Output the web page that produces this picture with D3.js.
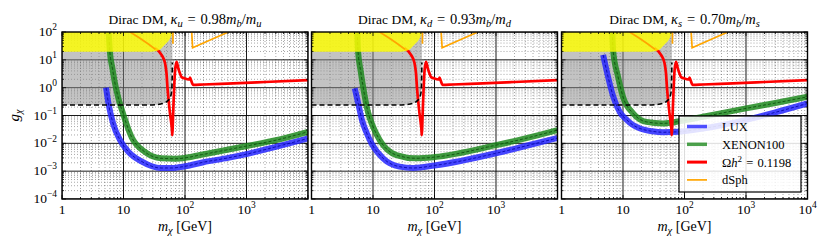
<!DOCTYPE html>
<html>
<head>
<meta charset="utf-8">
<script src="https://cdnjs.cloudflare.com/ajax/libs/d3/7.8.5/d3.min.js"></script>
<style>
  body { margin: 0; background: #fff; }
  svg { display: block; }
</style>
</head>
<body>
<div id="chart"></div>
<script>
// ---- data (mass in GeV, coupling g_chi) ----
var massTicks = [1, 10, 100, 1000, 10000];
var couplingTicks = [1e-4, 1e-3, 1e-2, 1e-1, 1, 10, 100];
var quarkNames = ["u", "d", "s"];
var kappaValues = ["0.98", "0.93", "0.70"];
var legendNames = ["LUX", "XENON100", "relic", "dSph"];

var luxU = [[5.2, 1.0], [5.7, 0.27], [6.8, 0.05], [8.8, 0.013], [12, 0.005], [20, 0.0022], [29, 0.0015],
  [40, 0.0013], [60, 0.0013], [100, 0.0015], [200, 0.0021], [500, 0.003], [1000, 0.0041], [3000, 0.0075], [10000, 0.015]];
var xenonU = [[5.75, 100], [6.0, 20], [6.6, 5], [7.2, 1.6], [8.3, 0.4], [9.8, 0.12], [13.5, 0.017], [22, 0.005],
  [41, 0.0029], [70, 0.0028], [100, 0.003], [175, 0.0038], [1000, 0.008], [3000, 0.013], [10000, 0.026]];

var luxD = [[5.05, 0.95], [5.6, 0.35], [6.1, 0.15], [6.6, 0.07], [7.8, 0.025], [9.45, 0.01], [14.6, 0.0029], [27, 0.00145],
  [45, 0.0013], [100, 0.0016], [1000, 0.0044], [3000, 0.008], [10000, 0.0155]];
var xenonD = [[5.55, 100], [5.7, 22], [6.3, 4], [6.9, 1.08], [8.3, 0.13], [10, 0.04], [12.9, 0.013], [24, 0.0038],
  [50, 0.0029], [100, 0.0032], [1000, 0.0086], [3000, 0.015], [10000, 0.03]];

var luxS = [[4.75, 15], [5.7, 2.5], [6.9, 0.5], [8.9, 0.13], [11.5, 0.07], [14, 0.048], [19, 0.034], [30, 0.027],
  [45, 0.025], [80, 0.026], [200, 0.034], [1000, 0.07], [3000, 0.13], [10000, 0.27]];
var xenonS = [[6.7, 100], [6.9, 22], [8.3, 2.5], [10, 0.47], [14.6, 0.12], [24, 0.059], [45, 0.052], [83, 0.062],
  [200, 0.09], [1000, 0.18], [3000, 0.28], [10000, 0.47]];

var relicCurve = [[32.5, 26], [41.8, 14.8], [47.4, 7.5], [50, 3.3], [52, 0.94], [53.5, 0.47], [57, 0.12], [60, 0.05],
  [61.5, 0.028], [62, 0.0197], [62.8, 0.03], [64, 0.1], [65.5, 0.4], [67, 1.3], [69, 4.3], [73, 8.5], [78, 4.8],
  [83, 3.2], [88, 2.4], [100, 2.15], [113, 2.0], [118, 2.0], [121, 2.3], [126, 1.8], [136, 1.25], [200, 1.3],
  [611, 1.43], [2000, 1.6], [10000, 1.87]];
var higgsWidth = [[1, 0.237], [25, 0.237], [35, 0.245], [45, 0.275], [50, 0.31], [55, 0.38], [58.5, 0.5], [60.5, 0.7],
  [61.5, 1.3], [62, 3], [62.3, 8]];
var perturbEdge = [[1, 19.5], [25, 19.5], [33, 20.5], [40, 24], [44, 30], [50, 40], [57, 59], [60.5, 80], [62.1, 100]];
var dsphLow = [[12.8, 100], [18, 62], [25, 38], [33, 24]];
var dsphPeak = [[63.6, 100], [63.6, 38]];
var dsphHigh = [[128.5, 100], [133, 27], [506, 100]];

var luxSets = [luxU, luxD, luxS];
var xenonSets = [xenonU, xenonD, xenonS];

// ---- layout ----
var W = 830, H = 249;
var panelLeft = [62, 311.5, 561.5];
var panelTop = 32, panelW = 246, panelH = 167;
var serif = "'Liberation Serif', 'Times New Roman', serif";

var svg = d3.select("#chart").append("svg").attr("width", W).attr("height", H)
  .style("font-family", serif);

var x = d3.scaleLog().domain([1, 1e4]).range([0, panelW]);
var y = d3.scaleLog().domain([1e-4, 1e2]).range([panelH, 0]);

function minorValues(scale) {
  var dom = scale.domain(), out = [];
  for (var e = Math.round(Math.log10(dom[0])); e < Math.round(Math.log10(dom[1])); e++)
    for (var k = 2; k <= 9; k++) out.push(k * Math.pow(10, e));
  return out;
}

var line = d3.line().x(function(d) { return x(d[0]); }).y(function(d) { return y(d[1]); }).curve(d3.curveMonotoneX);
var straight = d3.line().x(function(d) { return x(d[0]); }).y(function(d) { return y(d[1]); });
var topArea = d3.area().x(function(d) { return x(d[0]); }).y0(function(d) { return y(d[1]); }).y1(0).curve(d3.curveMonotoneX);

function label(parent) {
  return parent.append("text").style("font-family", serif);
}

// writes 1, 10, 10^n as text with superscript (full = always 10^n)
function powerLabel(sel, v, size, full) {
  var e = Math.round(Math.log10(v));
  if (!full && e === 0) { sel.text("1"); return; }
  if (!full && e === 1) { sel.text("10"); return; }
  sel.append("tspan").text("10");
  sel.append("tspan").attr("font-size", size * 0.7).attr("dy", -size * 0.42)
    .text(e < 0 ? "\u2212" + (-e) : e);
}

function sub(t, s, italic, size) {
  t.append("tspan").attr("font-size", size || 10).attr("dy", 3).attr("font-style", italic ? "italic" : null).text(s);
  return t;
}

function drawBand(g, data, fill, dark) {
  g.append("path").attr("d", line(data)).attr("fill", "none")
    .attr("stroke", fill).attr("stroke-width", 6).attr("stroke-opacity", 0.85);
  g.append("path").attr("d", line(data)).attr("fill", "none")
    .attr("stroke", dark).attr("stroke-width", 1).attr("stroke-dasharray", "3,2").attr("stroke-opacity", 0.8);
}

panelLeft.forEach(function(left, i) {
  var g = svg.append("g").attr("transform", "translate(" + left + "," + panelTop + ")");

  g.append("clipPath").attr("id", "clip" + i).append("rect").attr("width", panelW).attr("height", panelH);
  var plot = g.append("g").attr("clip-path", "url(#clip" + i + ")");

  // minor dotted grid
  plot.selectAll(".gx").data(minorValues(x)).join("line")
    .attr("x1", function(d) { return x(d); }).attr("x2", function(d) { return x(d); })
    .attr("y1", 0).attr("y2", panelH)
    .attr("stroke", "#000").attr("stroke-opacity", 0.5).attr("stroke-width", 0.7).attr("stroke-dasharray", "1,2");
  plot.selectAll(".gy").data(minorValues(y)).join("line")
    .attr("y1", function(d) { return y(d); }).attr("y2", function(d) { return y(d); })
    .attr("x1", 0).attr("x2", panelW)
    .attr("stroke", "#000").attr("stroke-opacity", 0.5).attr("stroke-width", 0.7).attr("stroke-dasharray", "1,2");
  // major grid
  plot.selectAll(".mx").data(massTicks).join("line")
    .attr("x1", function(d) { return x(d); }).attr("x2", function(d) { return x(d); })
    .attr("y1", 0).attr("y2", panelH).attr("stroke", "#000").attr("stroke-width", 0.9);
  plot.selectAll(".my").data(couplingTicks).join("line")
    .attr("y1", function(d) { return y(d); }).attr("y2", function(d) { return y(d); })
    .attr("x1", 0).attr("x2", panelW).attr("stroke", "#000").attr("stroke-width", 0.9);

  // Higgs invisible width region
  plot.append("path").attr("d", topArea(higgsWidth)).attr("fill", "#888").attr("fill-opacity", 0.5);

  drawBand(plot, luxSets[i], "#2626ff", "#0000a0");
  drawBand(plot, xenonSets[i], "#1f8a1f", "#0a4a0a");

  plot.append("path").attr("d", line(relicCurve)).attr("fill", "none")
    .attr("stroke", "#ff0000").attr("stroke-width", 2.7);

  plot.append("path").attr("d", topArea(perturbEdge)).attr("fill", "#ffff00").attr("fill-opacity", 0.82);

  [dsphLow, dsphPeak, dsphHigh].forEach(function(seg) {
    plot.append("path").attr("d", straight(seg)).attr("fill", "none")
      .attr("stroke", "#ffa500").attr("stroke-width", 1.7);
  });

  plot.append("path").attr("d", line(higgsWidth)).attr("fill", "none")
    .attr("stroke", "#000").attr("stroke-width", 1.6).attr("stroke-dasharray", "5,3");

  // ticks (inward, all four sides)
  var tk = g.append("g").attr("stroke", "#000");
  massTicks.forEach(function(v) {
    tk.append("line").attr("x1", x(v)).attr("x2", x(v)).attr("y1", panelH).attr("y2", panelH - 4);
    tk.append("line").attr("x1", x(v)).attr("x2", x(v)).attr("y1", 0).attr("y2", 4);
  });
  minorValues(x).forEach(function(v) {
    tk.append("line").attr("x1", x(v)).attr("x2", x(v)).attr("y1", panelH).attr("y2", panelH - 2);
    tk.append("line").attr("x1", x(v)).attr("x2", x(v)).attr("y1", 0).attr("y2", 2);
  });
  couplingTicks.forEach(function(v) {
    tk.append("line").attr("y1", y(v)).attr("y2", y(v)).attr("x1", 0).attr("x2", 4);
    tk.append("line").attr("y1", y(v)).attr("y2", y(v)).attr("x1", panelW).attr("x2", panelW - 4);
  });
  minorValues(y).forEach(function(v) {
    tk.append("line").attr("y1", y(v)).attr("y2", y(v)).attr("x1", 0).attr("x2", 2);
    tk.append("line").attr("y1", y(v)).attr("y2", y(v)).attr("x1", panelW).attr("x2", panelW - 2);
  });
  tk.selectAll("line").attr("stroke-width", 0.8);

  g.append("rect").attr("width", panelW).attr("height", panelH)
    .attr("fill", "none").attr("stroke", "#000").attr("stroke-width", 1.4);

  // x tick labels
  var xLabels = i === 2 ? massTicks : massTicks.slice(0, 4);
  xLabels.forEach(function(v) {
    var t = label(g).attr("x", x(v)).attr("y", panelH + 15).attr("text-anchor", "middle").attr("font-size", 13.5);
    powerLabel(t, v, 13.5, false);
  });

  // x axis title
  var xt = label(g).attr("x", panelW / 2).attr("y", panelH + 32).attr("text-anchor", "middle").attr("font-size", 14);
  xt.append("tspan").attr("font-style", "italic").text("m");
  sub(xt, "\u03c7", true, 10.5);
  xt.append("tspan").attr("dy", -3).text("\u2005[GeV]");

  // panel title
  var t = label(g).attr("x", panelW / 2).attr("y", -8).attr("text-anchor", "middle").attr("font-size", 14.5);
  t.append("tspan").attr("font-size", 13.5).text("Dirac DM,\u2005");
  t.append("tspan").attr("font-style", "italic").text("\u03ba");
  sub(t, quarkNames[i], true, 10.5);
  t.append("tspan").attr("dy", -3).text("\u2004=\u2004" + kappaValues[i]);
  t.append("tspan").attr("font-style", "italic").text("m");
  sub(t, "b", true, 10.5);
  t.append("tspan").attr("dy", -3).text("/");
  t.append("tspan").attr("font-style", "italic").text("m");
  sub(t, quarkNames[i], true, 10.5);

  if (i === 0) {
    couplingTicks.forEach(function(v) {
      var t = label(g).attr("x", -5).attr("y", y(v) + 4).attr("text-anchor", "end").attr("font-size", 13.5);
      powerLabel(t, v, 13.5, true);
    });
    var yt = label(g).attr("transform", "translate(-43," + (panelH / 2) + ") rotate(-90)")
      .attr("text-anchor", "middle").attr("font-size", 15);
    yt.append("tspan").attr("font-style", "italic").text("g");
    sub(yt, "\u03c7", true, 10.5);
  }

  if (i === 2) {
    var lg = g.append("g").attr("transform", "translate(117.5,84)");
    lg.append("rect").attr("width", 122).attr("height", 76)
      .attr("fill", "#fff").attr("fill-opacity", 0.85).attr("stroke", "#000").attr("stroke-width", 1.2);
    var colors = ["#2626ff", "#1f8a1f", "#ff0000", "#ffa500"];
    var widths = [3.5, 3.5, 3, 1.7];
    var opac = [0.8, 0.8, 1, 1];
    legendNames.forEach(function(name, k) {
      var ly = 10.5 + k * 17.8;
      lg.append("line").attr("x1", 8).attr("x2", 28).attr("y1", ly).attr("y2", ly)
        .attr("stroke", colors[k]).attr("stroke-width", widths[k]).attr("stroke-opacity", opac[k]);
      var lt = label(lg).attr("x", 43).attr("y", ly + 4.5).attr("font-size", 12.5);
      if (name === "relic") {
        lt.append("tspan").text("\u03a9");
        lt.append("tspan").attr("font-style", "italic").text("h");
        lt.append("tspan").attr("font-size", 9).attr("dy", -5).text("2");
        lt.append("tspan").attr("dy", 5).text("\u2004=\u20040.1198");
      } else {
        lt.text(name);
      }
    });
  }
});
</script>
</body>
</html>
